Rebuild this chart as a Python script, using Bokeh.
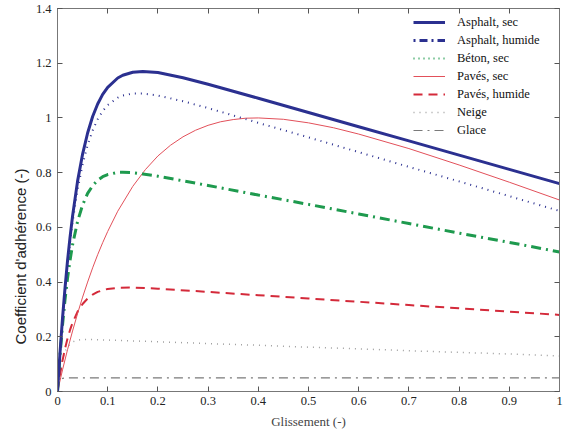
from bokeh.plotting import figure
from bokeh.models import LinearAxis, Legend, LegendItem, Range1d, FixedTicker, Title
from bokeh.embed import file_html
from bokeh.resources import INLINE

# ---- data ----
slip_asph_sec = [0, 0.005, 0.01, 0.015, 0.02, 0.025, 0.03, 0.04, 0.05, 0.06, 0.07, 0.08, 0.09, 0.10, 0.12, 0.13, 0.15, 0.17, 0.20, 0.25, 0.30, 0.40, 0.50, 0.60, 0.70, 0.80, 0.90, 1.00]
mu_asph_sec = [0, 0.142, 0.268, 0.379, 0.478, 0.564, 0.641, 0.769, 0.868, 0.945, 1.005, 1.051, 1.086, 1.112, 1.146, 1.156, 1.167, 1.170, 1.166, 1.147, 1.123, 1.072, 1.020, 0.968, 0.916, 0.864, 0.812, 0.760]

slip_beton_sec = [0, 0.005, 0.01, 0.015, 0.02, 0.025, 0.03, 0.04, 0.05, 0.06, 0.07, 0.08, 0.09, 0.10, 0.12, 0.13, 0.15, 0.17, 0.20, 0.25, 0.30, 0.40, 0.50, 0.60, 0.70, 0.80, 0.90, 1.00]
mu_beton_sec = [0, 0.139, 0.261, 0.368, 0.463, 0.546, 0.619, 0.738, 0.830, 0.901, 0.954, 0.995, 1.025, 1.047, 1.074, 1.082, 1.089, 1.089, 1.082, 1.061, 1.036, 0.982, 0.929, 0.875, 0.821, 0.768, 0.714, 0.660]

slip_asph_hum = [0, 0.005, 0.01, 0.015, 0.02, 0.025, 0.03, 0.04, 0.05, 0.06, 0.07, 0.08, 0.09, 0.10, 0.12, 0.13, 0.15, 0.17, 0.20, 0.25, 0.30, 0.40, 0.50, 0.60, 0.70, 0.80, 0.90, 1.00]
mu_asph_hum = [0, 0.132, 0.243, 0.336, 0.414, 0.480, 0.536, 0.622, 0.682, 0.724, 0.752, 0.772, 0.785, 0.793, 0.801, 0.801, 0.800, 0.795, 0.787, 0.770, 0.753, 0.718, 0.684, 0.649, 0.614, 0.579, 0.545, 0.510]

slip_paves_sec = [0, 0.01, 0.02, 0.03, 0.04, 0.05, 0.06, 0.07, 0.08, 0.09, 0.10, 0.12, 0.15, 0.175, 0.20, 0.225, 0.25, 0.275, 0.30, 0.325, 0.35, 0.375, 0.40, 0.45, 0.50, 0.55, 0.60, 0.70, 0.80, 0.90, 1.00]
mu_paves_sec = [0, 0.079, 0.153, 0.221, 0.285, 0.345, 0.400, 0.452, 0.500, 0.544, 0.585, 0.659, 0.750, 0.811, 0.861, 0.900, 0.931, 0.955, 0.973, 0.986, 0.994, 0.999, 1.000, 0.995, 0.982, 0.964, 0.941, 0.888, 0.828, 0.765, 0.700]

slip_paves_hum = [0, 0.005, 0.01, 0.015, 0.02, 0.025, 0.03, 0.04, 0.05, 0.06, 0.07, 0.08, 0.09, 0.10, 0.12, 0.15, 0.20, 0.30, 0.40, 0.50, 0.60, 0.70, 0.80, 0.90, 1.00]
mu_paves_hum = [0, 0.062, 0.113, 0.157, 0.194, 0.225, 0.251, 0.292, 0.320, 0.340, 0.354, 0.364, 0.370, 0.375, 0.379, 0.380, 0.376, 0.364, 0.352, 0.340, 0.328, 0.316, 0.304, 0.292, 0.280]

slip_neige = [0, 0.005, 0.01, 0.015, 0.02, 0.03, 0.04, 0.05, 0.07, 0.10, 0.20, 0.30, 0.40, 0.50, 0.60, 0.70, 0.80, 0.90, 1.00]
mu_neige = [0, 0.073, 0.118, 0.146, 0.164, 0.181, 0.188, 0.190, 0.190, 0.188, 0.182, 0.175, 0.169, 0.162, 0.156, 0.149, 0.143, 0.137, 0.130]

slip_glace = [0, 0.002, 0.004, 0.006, 0.01, 0.015, 0.02, 0.05, 0.20, 0.50, 1.00]
mu_glace = [0, 0.023, 0.035, 0.042, 0.048, 0.0495, 0.050, 0.050, 0.050, 0.050, 0.050]

legend_labels = ["Asphalt, sec", "Asphalt, humide", "Béton, sec", "Pavés, sec",
                 "Pavés, humide", "Neige", "Glace"]

x_ticks = [0, 0.1, 0.2, 0.3, 0.4, 0.5, 0.6, 0.7, 0.8, 0.9, 1]
x_tick_labels = ["0", "0.1", "0.2", "0.3", "0.4", "0.5", "0.6", "0.7", "0.8", "0.9", "1"]
y_ticks = [0, 0.2, 0.4, 0.6, 0.8, 1, 1.2, 1.4]
y_tick_labels = ["0", "0.2", "0.4", "0.6", "0.8", "1", "1.2", "1.4"]

NAVY = "#2B3090"
GREEN = "#1E9A4E"
RED_THIN = "#E2505A"
RED = "#D42A3A"
SERIF = "Times"
SANS = "Arial"

p = figure(width=569, height=431, output_backend="svg", toolbar_location=None,
           x_range=Range1d(0, 1), y_range=Range1d(0, 1.4),
           min_border_left=57, min_border_right=10, min_border_top=8,
           min_border_bottom=40, x_axis_label="Glissement (-)")
p.grid.visible = False
p.outline_line_color = "#777777"
p.background_fill_color = "white"
p.border_fill_color = "white"

def style_axis(ax, ticks, labels, show_labels=True):
    ax.ticker = FixedTicker(ticks=ticks)
    ax.major_tick_in = 5
    ax.major_tick_out = 0
    ax.minor_tick_line_color = None
    ax.axis_line_color = "#777777"
    ax.major_tick_line_color = "#555555"
    ax.major_label_overrides = {t: l for t, l in zip(ticks, labels)}
    ax.major_label_text_font = SERIF
    if show_labels:
        ax.major_label_text_font_size = "12.5px"
        ax.major_label_text_color = "#222222"
        ax.major_label_standoff = 5
    else:
        ax.major_label_text_font_size = "0px"
        ax.major_label_standoff = 0

style_axis(p.xaxis[0], x_ticks, x_tick_labels)
style_axis(p.yaxis[0], y_ticks, y_tick_labels)
p.yaxis[0].major_label_standoff = 6
p.xaxis.axis_label_text_font = SERIF
p.xaxis.axis_label_text_font_size = "13px"
p.xaxis.axis_label_text_font_style = "normal"
p.xaxis.axis_label_standoff = 6

# y-axis title placed as in the reference (starts low on the left side)
ytitle = Title(text="Coefficient d'adhérence (-)", align="left", offset=47,
               text_font=SANS, text_font_size="15px", text_font_style="normal",
               text_color="#222222", standoff=7)
p.add_layout(ytitle, "left")

top_ax = LinearAxis()
style_axis(top_ax, x_ticks, x_tick_labels, show_labels=False)
p.add_layout(top_ax, "above")
right_ax = LinearAxis()
style_axis(right_ax, y_ticks, y_tick_labels, show_labels=False)
p.add_layout(right_ax, "right")

# ---- curves as drawn ----
r_glace = p.line(slip_glace, mu_glace, line_color="#7A7A7A", line_width=1.2, line_dash="9 5 2 5")
r_neige = p.line(slip_neige, mu_neige, line_color="#A0A0A0", line_width=1.5, line_dash="1 5")
r_phum = p.line(slip_paves_hum, mu_paves_hum, line_color=RED, line_width=2, line_dash="9 6")
r_psec = p.line(slip_paves_sec, mu_paves_sec, line_color=RED_THIN, line_width=1)
r_ahum_curve = p.line(slip_asph_hum, mu_asph_hum, line_color=GREEN, line_width=3, line_dash="10 5 2 5")
r_beton_curve = p.line(slip_beton_sec, mu_beton_sec, line_color=NAVY, line_width=2, line_dash="1 5")
r_asec = p.line(slip_asph_sec, mu_asph_sec, line_color=NAVY, line_width=3)

# legend-only samples (styles as printed in the key); hidden, only shown in the key
r_key_ahum = p.line(slip_asph_hum, mu_asph_hum, line_color=NAVY, line_width=3, line_dash="2 4 8 4", visible=False)
r_key_beton = p.line(slip_beton_sec, mu_beton_sec, line_color=GREEN, line_width=2, line_dash="1 4", visible=False)

legend = Legend(items=[
    LegendItem(label=legend_labels[0], renderers=[r_asec]),
    LegendItem(label=legend_labels[1], renderers=[r_key_ahum]),
    LegendItem(label=legend_labels[2], renderers=[r_key_beton]),
    LegendItem(label=legend_labels[3], renderers=[r_psec]),
    LegendItem(label=legend_labels[4], renderers=[r_phum]),
    LegendItem(label=legend_labels[5], renderers=[r_neige]),
    LegendItem(label=legend_labels[6], renderers=[r_glace]),
])
legend.location = (356, 253)
legend.background_fill_alpha = 0
legend.border_line_color = None
legend.inactive_fill_alpha = 0
legend.padding = 2
legend.margin = 0
legend.spacing = 2
legend.glyph_width = 32
legend.glyph_height = 16
legend.label_height = 16
legend.label_standoff = 12
legend.label_text_font = SERIF
legend.label_text_font_size = "12.5px"
legend.label_text_color = "#111111"
p.add_layout(legend, "center")

open("out.html", "w").write(file_html(p, INLINE))
